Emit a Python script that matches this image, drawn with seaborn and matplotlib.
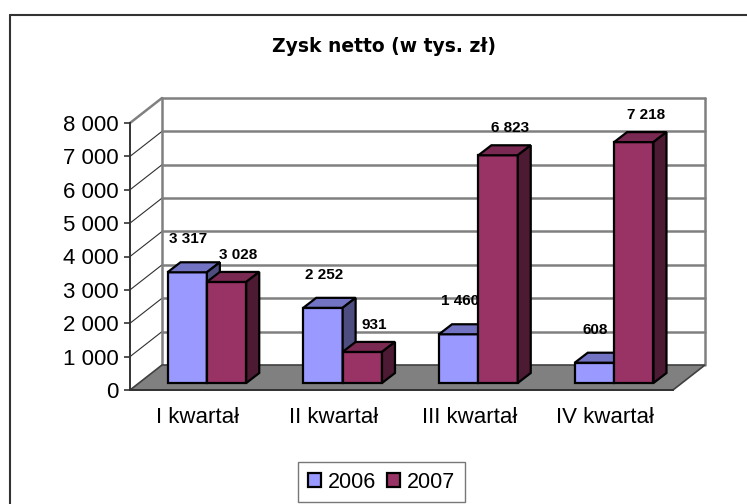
import pandas as pd
import matplotlib.pyplot as plt
import seaborn as sns
from matplotlib.patches import Polygon

# data
quarters = ['I kwartał', 'II kwartał', 'III kwartał', 'IV kwartał']
years = ['2006', '2007']
profit_2006 = [3317, 2252, 1460, 608]
profit_2007 = [3028, 931, 6823, 7218]
y_ticks = [0, 1000, 2000, 3000, 4000, 5000, 6000, 7000, 8000]

front_colors = {'2006': '#9999FF', '2007': '#993366'}
top_colors = {'2006': '#7373C4', '2007': '#7A2952'}
side_colors = {'2006': '#4D4D80', '2007': '#4D1A33'}


def fmt(v):
    return f'{v:,}'.replace(',', ' ')


df = pd.DataFrame({
    'kwartał': quarters * 2,
    'rok': ['2006'] * 4 + ['2007'] * 4,
    'zysk': profit_2006 + profit_2007,
})

sns.set_style('white')
plt.rcParams['font.family'] = ['Liberation Sans', 'DejaVu Sans']
plt.rcParams['text.color'] = 'black'
plt.rcParams['xtick.color'] = 'black'
plt.rcParams['ytick.color'] = 'black'

W, H = 747, 504
fig = plt.figure(figsize=(W / 100, H / 100), dpi=100)
ax = fig.add_axes([130 / W, 1 - 390 / H, 543 / W, 267 / H])

sns.barplot(data=df, x='kwartał', y='zysk', hue='rok', hue_order=years,
            palette=front_colors, saturation=1, width=0.58,
            edgecolor='black', linewidth=1.6, ax=ax)
ax.set_xlim(-0.5, 3.5)
ax.set_ylim(0, 8000)

# pixel -> data conversion for the fake 3D depth
px_x = 543 / 4
px_y = 267 / 8000


def off(dx, dy):
    return dx / px_x, dy / px_y


wx, wy = off(32, 25)   # wall depth
fx, fy = off(9, 7)     # bar front plane
bx, by = off(13, 10)   # bar depth

bars = [p for p in ax.patches if p.get_height() > 0 and p.get_width() > 0]
for bar in bars:
    c = bar.get_x() + bar.get_width() / 2
    year = '2006' if c < round(c) else '2007'
    z = 3 if year == '2006' else 4
    x0 = bar.get_x() + fx
    y0 = fy
    w = bar.get_width()
    h = bar.get_height()
    bar.set_x(x0)
    bar.set_y(y0)
    bar.set_zorder(z)
    bar.set_clip_on(False)
    top = Polygon([(x0, y0 + h), (x0 + w, y0 + h), (x0 + w + bx, y0 + h + by), (x0 + bx, y0 + h + by)],
                  closed=True, facecolor=top_colors[year], edgecolor='black', lw=1.6, zorder=z, clip_on=False)
    side = Polygon([(x0 + w, y0), (x0 + w + bx, y0 + by), (x0 + w + bx, y0 + h + by), (x0 + w, y0 + h)],
                   closed=True, facecolor=side_colors[year], edgecolor='black', lw=1.6, zorder=z, clip_on=False)
    ax.add_patch(top)
    ax.add_patch(side)
    lx, ly = (1, 33) if year == '2006' else (12, 27)
    ax.annotate(fmt(int(round(h))), (x0 + w / 2, y0 + h), xytext=(lx, ly), textcoords='offset pixels',
                ha='center', va='center', fontsize=11, fontweight='bold', color='black', zorder=6)

# floor
floor = Polygon([(-0.5, 0), (3.5, 0), (3.5 + wx, wy), (-0.5 + wx, wy)], closed=True,
                facecolor='#808080', edgecolor='#404040', lw=1.2, zorder=1, clip_on=False)
ax.add_patch(floor)

# back wall grid + left wall lines
for v in y_ticks[1:]:
    ax.plot([-0.5 + wx, 3.5 + wx], [v + wy, v + wy], color='#808080', lw=1.8, zorder=0.5, clip_on=False)
    ax.plot([-0.5, -0.5 + wx], [v, v + wy], color='#808080' if v == 8000 else '#303030',
            lw=1.8 if v == 8000 else 0.8, zorder=0.5, clip_on=False)
for xe in [-0.5 + wx, 3.5 + wx]:
    ax.plot([xe, xe], [wy, 8000 + wy], color='#808080', lw=1.8, zorder=0.5, clip_on=False)

# axes styling
sns.despine(ax=ax, top=True, right=True)
for s in ['left', 'bottom']:
    ax.spines[s].set_color('#333333')
    ax.spines[s].set_linewidth(1.4)
    ax.spines[s].set_zorder(2)
ax.set_yticks(y_ticks)
ax.set_yticklabels([fmt(v) for v in y_ticks], fontsize=16)
ax.set_xticks(range(len(quarters)))
ax.set_xticklabels(quarters, fontsize=16)
ax.set_xticks([-0.5, 0.5, 1.5, 2.5, 3.5], minor=True)
ax.tick_params(axis='x', which='major', length=0, pad=12, labelcolor='black')
ax.tick_params(axis='x', which='minor', length=5, width=1.2, color='#333333', direction='out')
ax.tick_params(axis='y', length=4, width=1.2, color='#333333', direction='out', pad=4, left=True,
               labelcolor='black')
ax.set_xlabel('')
ax.set_ylabel('')
ax.patch.set_alpha(0)

# legend
handles, labels = ax.get_legend_handles_labels()
ax.get_legend().remove()
fig.legend(handles, labels, loc='upper center', bbox_to_anchor=(381.5 / W, 1 - 462 / H),
           ncol=2, fontsize=15.5, frameon=True, fancybox=False, edgecolor='#555555',
           handlelength=0.62, handleheight=0.62, handletextpad=0.3, columnspacing=0.5,
           borderpad=0.45, borderaxespad=0, labelcolor='black')

fig.text(383.5 / W, 1 - 46 / H, 'Zysk netto (w tys. zł)', ha='center', va='center',
         fontsize=13.5, fontweight='bold', color='black', family=['DejaVu Sans'])

# outer chart border (only left and top visible in the reference)
fig.add_artist(plt.Line2D([9.5 / W, 9.5 / W], [0, 1 - 14.5 / H], transform=fig.transFigure,
                          color='#333333', lw=1.5))
fig.add_artist(plt.Line2D([9.5 / W, 1], [1 - 14.5 / H, 1 - 14.5 / H], transform=fig.transFigure,
                          color='#333333', lw=1.5))

fig.savefig('out.png', dpi=100)
